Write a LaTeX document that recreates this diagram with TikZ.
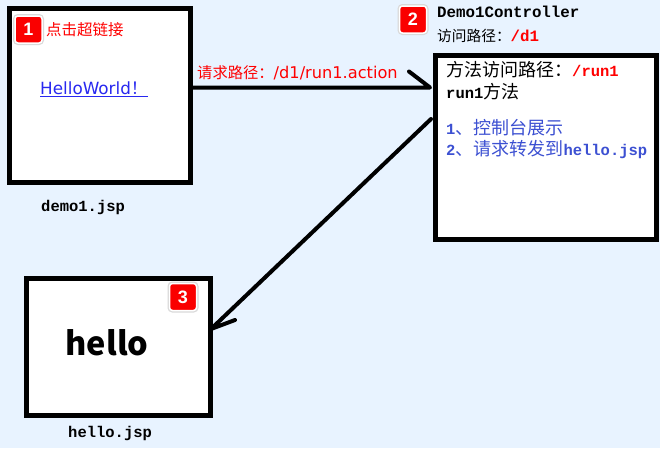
\documentclass[tikz,border=0pt]{standalone}
\usepackage{fontspec}
\newfontfamily\cjk{Noto Sans CJK SC}
\newfontfamily\monof{Liberation Mono}
\newfontfamily\arialf{Liberation Sans}
\newfontfamily\verdf{DejaVu Sans}
\definecolor{bgblue}{RGB}{232,243,255}
\definecolor{linkblue}{RGB}{40,40,240}
\definecolor{noteblue}{RGB}{60,80,210}
\definecolor{badgered}{RGB}{250,0,0}
\newcommand{\fsz}[1]{\fontsize{#1}{#1}\selectfont}
\begin{document}
\begin{tikzpicture}[x=1pt,y=-1pt,
 page/.style={draw=black, line width=5pt, fill=white, rectangle, inner sep=0},
 badge/.style={rectangle, rounded corners=3pt, fill=badgered, draw=white, line width=1.5pt, minimum width=27pt, minimum height=27pt, inner sep=0, text=white, font=\arialf\bfseries\fsz{18}, preaction={draw=black!15, line width=4pt}},
 lbl/.style={inner sep=0, anchor=west},
 conn/.style={line width=4pt, line cap=round, line join=round}]
\fill[white] (0,0) rectangle (664,448);
\fill[bgblue] (0,0) rectangle (660,448);
\useasboundingbox (0,0) rectangle (664,448);

% connectors
\coordinate (t1) at (430,87.5);
\coordinate (s2) at (431,119);
\coordinate (t2) at (211,329);

% pages
\node[page, minimum width=181pt, minimum height=173.5pt] (box1) at (99.5,95.25) {};
\node[page, minimum width=220.5pt, minimum height=184pt] (box2) at (545.75,147.5) {};
\node[page, minimum width=184pt, minimum height=137pt] (box3) at (118,346.5) {};

\draw[conn] (box1.east |- t1) -- (t1) -- ++(-21,-16);
\draw[conn] (s2) -- (t2) -- ++(24,-9);

% badges
\node[badge] (b1) at (28.5,29.5) {1};
\node[badge] (b2) at (413,19.5) {2};
\node[badge] (b3) at (183,297) {3};

% box1 texts
\node[lbl, text=red, font=\cjk\fsz{15.5}] (l1) at (46,30) {点击超链接};
\node[lbl, text=linkblue, font=\verdf\fsz{16.8}] (link) at (40,89) {\underline{HelloWorld{\cjk！}}};
\node[lbl, font=\monof\bfseries\fsz{15.5}] (f1) at (41,207) {demo1.jsp};

% request label
\node[lbl, text=red, font=\cjk\fsz{15.3}] (req) at (197,73) {请求路径：{\verdf\fsz{16.2}/d1/run1.action}};

% controller
\node[lbl, font=\monof\bfseries\fsz{15.8}] (ctl) at (437,12) {Demo1Controller};
\node[lbl, font=\cjk\fsz{14.7}] (path) at (437,36) {访问路径：{\monof\bfseries\fsz{15.8}\color{red}/d1}};

% box2 texts
\node[lbl, font=\cjk\fsz{18}] (m1) at (446,70) {方法访问路径：{\monof\bfseries\fsz{15.5}\color{red}/run1}};
\node[lbl, font=\cjk\fsz{18}] (m2) at (446,92) {{\monof\bfseries\fsz{15.5}run1}方法};
\node[lbl, text=noteblue, font=\cjk\fsz{18}] (m3) at (446,128) {{\monof\bfseries\fsz{15.5}1}、控制台展示};
\node[lbl, text=noteblue, font=\cjk\fsz{18}] (m4) at (446,150) {{\monof\bfseries\fsz{15.5}2}、请求转发到{\monof\bfseries\fsz{15.5}hello.jsp}};

% box3 texts
\node[font=\cjk\bfseries\fsz{32.5}, inner sep=0] (hello) at (107,343) {hello};
\node[lbl, font=\monof\bfseries\fsz{15.5}] (f3) at (68,433) {hello.jsp};
\end{tikzpicture}
\end{document}
